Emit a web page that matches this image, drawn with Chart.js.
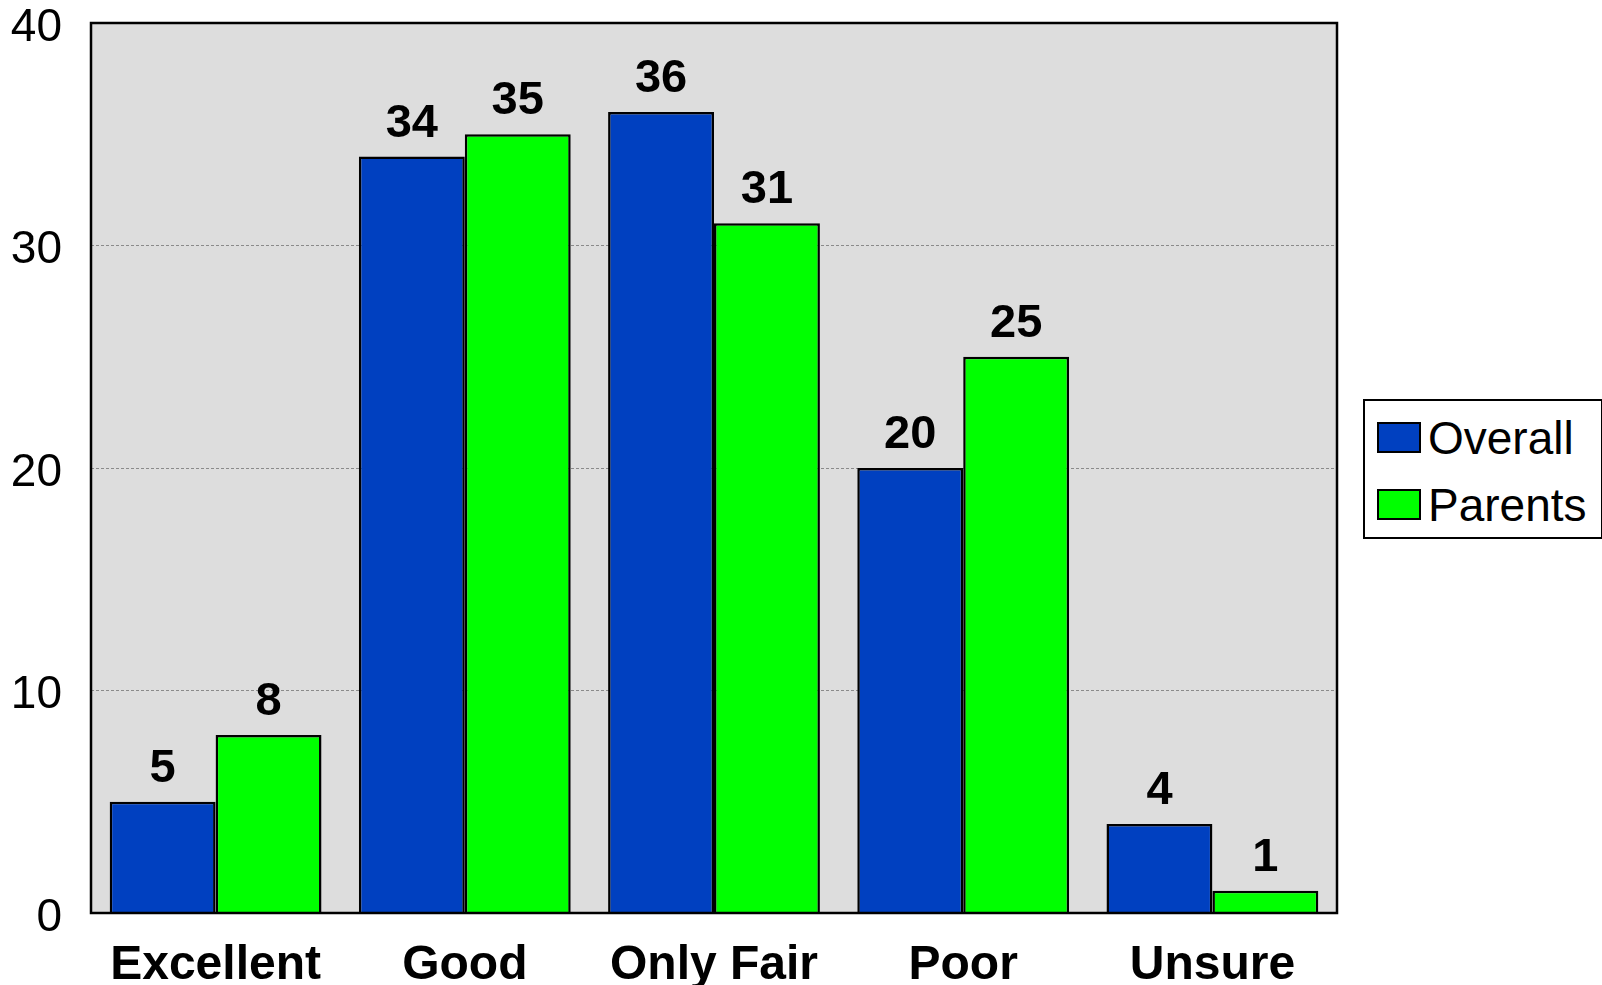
<!DOCTYPE html>
<html lang="en">

<head>
    <meta charset="UTF-8">
    <title>Ratings</title>
    <script src="https://cdn.jsdelivr.net/npm/chart.js"></script>
    <style>
        html, body { margin: 0; padding: 0; background: #ffffff; }
        #wrap { position: relative; width: 1602px; height: 985px; overflow: hidden; }
        #legend {
            position: absolute; left: 1363px; top: 399px; width: 240px; height: 140px;
            border: 2px solid #000; background: #fff; box-sizing: border-box;
            font-family: "Liberation Sans", Arial, sans-serif; font-size: 46px; color: #000;
            padding-top: 3px;
        }
        .item { display: flex; align-items: center; height: 67px; padding-left: 12px; }
        .swatch { width: 40px; height: 27px; border: 2px solid #000; margin-right: 7px; flex: none; }
    </style>
</head>

<body>
    <div id="wrap">
        <canvas id="myChart" width="1602" height="985"></canvas>
        <div id="legend"></div>
    </div>

    <script>
        const categories = ['Excellent', 'Good', 'Only Fair', 'Poor', 'Unsure'];
        const overall = [5, 34, 36, 20, 4];
        const parents = [8, 35, 31, 25, 1];
        const yTicks = [0, 10, 20, 30, 40];

        const font = '"Liberation Sans", Arial, sans-serif';

        // grey plot background + black frame
        const plotFrame = {
            id: 'plotFrame',
            beforeDraw(chart) {
                const a = chart.chartArea, c = chart.ctx;
                c.save();
                c.fillStyle = '#dddddd';
                c.fillRect(a.left, a.top, a.right - a.left, a.bottom - a.top);
                c.restore();
            },
            afterDraw(chart) {
                const a = chart.chartArea, c = chart.ctx;
                c.save();
                c.strokeStyle = '#000';
                c.lineWidth = 2.5;
                c.strokeRect(a.left, a.top, a.right - a.left, a.bottom - a.top);
                c.restore();
            }
        };

        // value labels above the bars
        const valueLabels = {
            id: 'valueLabels',
            afterDatasetsDraw(chart) {
                const c = chart.ctx;
                c.save();
                c.font = 'bold 47px ' + font;
                c.fillStyle = '#000';
                c.textAlign = 'center';
                c.textBaseline = 'alphabetic';
                chart.data.datasets.forEach((ds, i) => {
                    chart.getDatasetMeta(i).data.forEach((bar, j) => {
                        c.fillText(ds.data[j], bar.x, bar.y - 20);
                    });
                });
                c.restore();
            }
        };

        const ctx = document.getElementById('myChart').getContext('2d');

        const myChart = new Chart(ctx, {
            type: 'bar',
            data: {
                labels: categories,
                datasets: [
                    {
                        label: 'Overall',
                        data: overall,
                        backgroundColor: '#0040c0',
                        borderColor: '#000000',
                        borderWidth: 2.5
                    },
                    {
                        label: 'Parents',
                        data: parents,
                        backgroundColor: '#00ff00',
                        borderColor: '#000000',
                        borderWidth: 2.5
                    }
                ]
            },
            options: {
                responsive: false,
                animation: false,
                layout: {
                    padding: { top: 23, right: 265, left: 0, bottom: 0 }
                },
                datasets: {
                    bar: { categoryPercentage: 0.85, barPercentage: 1.0 }
                },
                scales: {
                    x: {
                        grid: { display: false },
                        border: { display: false },
                        ticks: {
                            color: '#000',
                            font: { family: font, size: 48, weight: 'bold' },
                            padding: 16,
                            maxRotation: 0,
                            autoSkip: false
                        },
                        afterFit(scale) {
                            scale.height = 72;
                            scale.paddingLeft = 0;
                            scale.paddingRight = 0;
                        }
                    },
                    y: {
                        min: 0,
                        max: 40,
                        afterBuildTicks(scale) { scale.ticks = yTicks.map(v => ({ value: v })); },
                        grid: {
                            color: (c) => (c.tick && (c.tick.value === 0 || c.tick.value === 40)) ? 'rgba(0,0,0,0)' : '#8a8a8a',
                            lineWidth: 1,
                            drawTicks: false,
                            tickBorderDash: [3, 2]
                        },
                        border: { display: false, dash: [3, 2] },
                        ticks: {
                            color: '#000',
                            font: { family: font, size: 46 },
                            padding: 29,
                            labelOffset: 5
                        },
                        afterFit(scale) {
                            scale.width = 91;
                            scale.paddingTop = 0;
                            scale.paddingBottom = 0;
                        }
                    }
                },
                plugins: {
                    legend: { display: false },
                    tooltip: { enabled: false }
                }
            },
            plugins: [plotFrame, valueLabels]
        });

        const legend = document.getElementById('legend');
        myChart.data.datasets.forEach(ds => {
            const row = document.createElement('div');
            row.className = 'item';
            const sw = document.createElement('span');
            sw.className = 'swatch';
            sw.style.background = ds.backgroundColor;
            row.appendChild(sw);
            row.appendChild(document.createTextNode(ds.label));
            legend.appendChild(row);
        });
    </script>
</body>

</html>
